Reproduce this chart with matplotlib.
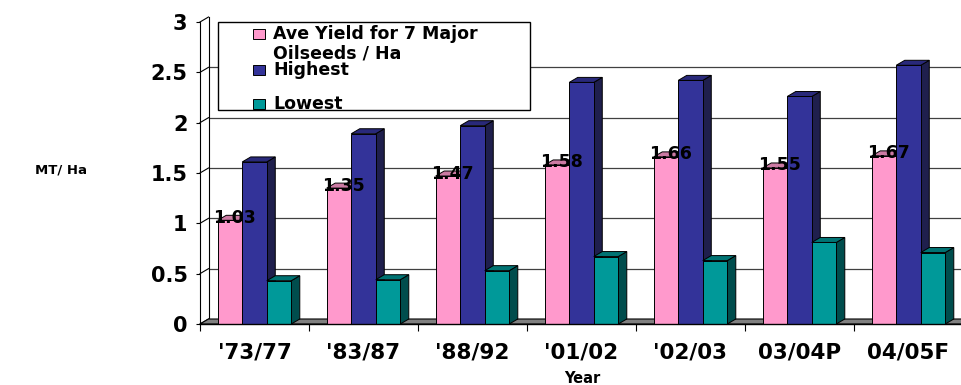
import numpy as np
import matplotlib.pyplot as plt
from matplotlib.patches import Polygon, Rectangle

# yield data (MT/Ha)
years = ["'73/77", "'83/87", "'88/92", "'01/02", "'02/03", "03/04P", "04/05F"]
ave_yield = [1.03, 1.35, 1.47, 1.58, 1.66, 1.55, 1.67]
highest = [1.61, 1.89, 1.97, 2.40, 2.42, 2.26, 2.57]
lowest = [0.43, 0.44, 0.53, 0.67, 0.63, 0.81, 0.71]
series_names = ["Ave Yield for 7 Major\nOilseeds / Ha", "Highest", "Lowest"]
y_ticks = [0, 0.5, 1, 1.5, 2, 2.5, 3]

front_col = ["#FF99CC", "#333399", "#009999"]
side_col = ["#B36B8F", "#1F1F4D", "#004D4D"]
top_col = ["#CC7AA3", "#29297A", "#007373"]

W, H = 961, 385
fig = plt.figure(figsize=(W / 100, H / 100), dpi=100)
ax = fig.add_axes([200 / W, (H - 324) / H, 763 / W, 302 / H])
ax.set_xlim(-0.5, 6.5)
ax.set_ylim(0, 3)

# depth of the 3d effect, in data units (about 8.5px right, 5px up)
ddx = 8.5 * 7 / 763
ddy = 5 * 3 / 302

# back wall gridlines + side wall diagonals
x_right = 6.5 + 2 * ddx
for t in y_ticks:
    ax.plot([-0.5, -0.5 + ddx], [t, t + ddy], color="black", lw=0.8, zorder=1, clip_on=False)
    if 0 < t < 3:
        ax.plot([-0.5 + ddx, x_right], [t + ddy, t + ddy], color="#404040", lw=0.9,
                zorder=1, clip_on=False)
ax.plot([-0.5 + ddx, -0.5 + ddx], [ddy, 3 + ddy], color="black", lw=0.8, zorder=1, clip_on=False)

# floor
floor = Polygon([(-0.5, 0), (x_right, 0), (x_right + ddx, ddy), (-0.5 + ddx, ddy)],
                closed=True, facecolor="#808080", edgecolor="black", lw=0.8, zorder=2,
                clip_on=False)
ax.add_patch(floor)

bw = 0.225
x = np.arange(len(years))
data = [ave_yield, highest, lowest]
for i in range(len(years)):
    for s in range(3):
        v = data[s][i]
        x0 = x[i] + (s - 1) * bw - bw / 2
        x1 = x0 + bw
        ax.add_patch(Polygon([(x1, 0), (x1 + ddx, ddy), (x1 + ddx, v + ddy), (x1, v)],
                             closed=True, facecolor=side_col[s], edgecolor="black",
                             lw=0.7, zorder=3, clip_on=False))
        ax.add_patch(Polygon([(x0, v), (x1, v), (x1 + ddx, v + ddy), (x0 + ddx, v + ddy)],
                             closed=True, facecolor=top_col[s], edgecolor="black",
                             lw=0.7, zorder=3, clip_on=False))
        ax.add_patch(Rectangle((x0, 0), bw, v, facecolor=front_col[s], edgecolor="black",
                               lw=0.7, zorder=3, clip_on=False))

# value labels on the average bars
for i, v in enumerate(ave_yield):
    ax.text(x[i] - bw + ddx / 2, v + ddy / 2, f"{v:.2f}", ha="center", va="center",
            fontsize=12.5, fontweight="bold", zorder=10)

# axes styling
for sp in ["top", "right"]:
    ax.spines[sp].set_visible(False)
ax.spines["left"].set_linewidth(0.8)
ax.spines["bottom"].set_linewidth(1.0)
ax.spines["left"].set_zorder(4)
ax.spines["bottom"].set_zorder(4)
ax.set_yticks(y_ticks)
ax.set_yticklabels(["0", "0.5", "1", "1.5", "2", "2.5", "3"])
ax.tick_params(axis="y", length=3, width=0.8, pad=6, labelsize=15)
for lab in ax.get_yticklabels():
    lab.set_fontweight("bold")
ax.set_xticks(x)
ax.set_xticklabels(years, fontsize=15.5, fontweight="bold")
ax.set_xticks(np.arange(-0.5, 7, 1), minor=True)
ax.tick_params(axis="x", which="major", length=0, pad=13)
ax.tick_params(axis="x", which="minor", length=5, width=0.8)

fig.text(61 / W, 1 - 170 / H, "MT/ Ha", ha="center", va="center", fontsize=9.5,
         fontweight="bold")
fig.text(582 / W, 1 - 371 / H, "Year", ha="center", va="top", fontsize=10.5,
         fontweight="bold")

# legend box
def px(px_x, px_y):
    return (px_x / W, 1 - px_y / H)

fig.add_artist(Rectangle(px(218, 110), 312 / W, 88 / H, transform=fig.transFigure,
                         facecolor="white", edgecolor="black", lw=1, zorder=5))
leg_rows = [34, 70, 104]
for s in range(3):
    fig.add_artist(Rectangle(px(253, leg_rows[s] + 5), 12 / W, 10 / H,
                             transform=fig.transFigure, facecolor=front_col[s],
                             edgecolor="black", lw=0.7, zorder=6))
    fig.text(273 / W, 1 - (leg_rows[s] - 9) / H, series_names[s], ha="left", va="top",
             fontsize=12.5, fontweight="bold", linespacing=1.1, zorder=7)

fig.savefig("out.png", dpi=100)
